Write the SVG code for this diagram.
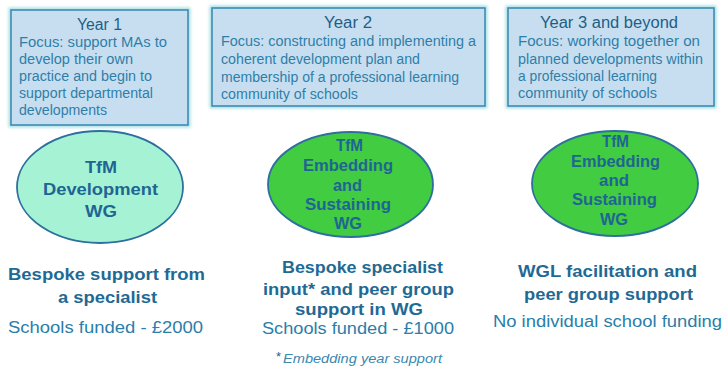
<svg xmlns="http://www.w3.org/2000/svg" width="725" height="371" viewBox="0 0 725 371">
  <defs>
    <filter id="glow" x="-10%" y="-10%" width="120%" height="120%">
      <feGaussianBlur stdDeviation="1.6"/>
    </filter>
    <style>
      text { font-family: "Liberation Sans", Arial, sans-serif; }
      .halo { fill: none; stroke: #a9dde3; stroke-width: 5; }
      .box { fill: #c7def1; stroke: #3d8db3; stroke-width: 1.6; }
      .year { font-size: 16px; fill: #1e5f86; text-anchor: middle; }
      .focus { font-size: 14px; fill: #2f7ea8; }
      .oval { stroke: #2d6f9e; stroke-width: 1.8; }
      .dev { fill: #a6f2d5; }
      .emb { fill: #42cc42; }
      .wg { font-size: 16px; font-weight: bold; fill: #1f6592; }
      .head { font-size: 17px; font-weight: bold; fill: #1f6a94; }
      .fund { font-size: 16px; fill: #2a7ea9; }
      .note { font-size: 12.5px; font-style: italic; fill: #3a88b0; }
      .star { font-size: 13px; fill: #1f5f86; }
    </style>
  </defs>

  <rect width="725" height="371" fill="#ffffff"/>

  <!-- Year headers -->
  <g id="year1">
    <rect class="halo" x="11" y="10" width="177" height="115" filter="url(#glow)"/>
    <rect class="box" x="11" y="10" width="177" height="115"/>
    <text class="year" x="99.5" y="30" textLength="45" lengthAdjust="spacingAndGlyphs">Year 1</text>
    <text class="focus" x="19" y="47" textLength="148" lengthAdjust="spacingAndGlyphs">Focus: support MAs to</text>
    <text class="focus" x="19" y="64" textLength="114" lengthAdjust="spacingAndGlyphs">develop their own</text>
    <text class="focus" x="19" y="81" textLength="133" lengthAdjust="spacingAndGlyphs">practice and begin to</text>
    <text class="focus" x="19" y="98" textLength="134" lengthAdjust="spacingAndGlyphs">support departmental</text>
    <text class="focus" x="19" y="115" textLength="88" lengthAdjust="spacingAndGlyphs">developments</text>
  </g>

  <g id="year2">
    <rect class="halo" x="212" y="8" width="273" height="98" filter="url(#glow)"/>
    <rect class="box" x="212" y="8" width="273" height="98"/>
    <text class="year" x="348" y="28" textLength="48" lengthAdjust="spacingAndGlyphs">Year 2</text>
    <text class="focus" x="221" y="46" textLength="255" lengthAdjust="spacingAndGlyphs">Focus: constructing and implementing a</text>
    <text class="focus" x="221" y="64" textLength="199" lengthAdjust="spacingAndGlyphs">coherent development plan and</text>
    <text class="focus" x="221" y="82" textLength="238" lengthAdjust="spacingAndGlyphs">membership of a professional learning</text>
    <text class="focus" x="221" y="99" textLength="137" lengthAdjust="spacingAndGlyphs">community of schools</text>
  </g>

  <g id="year3">
    <rect class="halo" x="508" y="8" width="206" height="98" filter="url(#glow)"/>
    <rect class="box" x="508" y="8" width="206" height="98"/>
    <text class="year" x="609" y="28" textLength="138" lengthAdjust="spacingAndGlyphs">Year 3 and beyond</text>
    <text class="focus" x="518" y="46" textLength="182" lengthAdjust="spacingAndGlyphs">Focus: working together on</text>
    <text class="focus" x="518" y="64" textLength="185" lengthAdjust="spacingAndGlyphs">planned developments within</text>
    <text class="focus" x="518" y="81" textLength="139" lengthAdjust="spacingAndGlyphs">a professional learning</text>
    <text class="focus" x="518" y="98" textLength="139" lengthAdjust="spacingAndGlyphs">community of schools</text>
  </g>

  <!-- Working groups -->
  <g id="wg-development">
    <ellipse class="oval dev" cx="100" cy="187" rx="83" ry="56"/>
    <text class="wg" x="85" y="173" textLength="32" lengthAdjust="spacingAndGlyphs">TfM</text>
    <text class="wg" x="43" y="195" textLength="115" lengthAdjust="spacingAndGlyphs">Development</text>
    <text class="wg" x="85" y="217" textLength="32" lengthAdjust="spacingAndGlyphs">WG</text>
  </g>

  <g id="wg-embedding-2">
    <ellipse class="oval emb" cx="350.5" cy="184.5" rx="82.5" ry="52.5"/>
    <text class="wg" x="336" y="151" textLength="27" lengthAdjust="spacingAndGlyphs">TfM</text>
    <text class="wg" x="303" y="171" textLength="90" lengthAdjust="spacingAndGlyphs">Embedding</text>
    <text class="wg" x="333" y="191" textLength="29" lengthAdjust="spacingAndGlyphs">and</text>
    <text class="wg" x="305" y="210" textLength="86" lengthAdjust="spacingAndGlyphs">Sustaining</text>
    <text class="wg" x="334" y="229" textLength="28" lengthAdjust="spacingAndGlyphs">WG</text>
  </g>

  <g id="wg-embedding-3">
    <ellipse class="oval emb" cx="615" cy="183.5" rx="83" ry="52.5"/>
    <text class="wg" x="602" y="147" textLength="27" lengthAdjust="spacingAndGlyphs">TfM</text>
    <text class="wg" x="571" y="167" textLength="89" lengthAdjust="spacingAndGlyphs">Embedding</text>
    <text class="wg" x="599" y="186" textLength="30" lengthAdjust="spacingAndGlyphs">and</text>
    <text class="wg" x="572" y="205" textLength="85" lengthAdjust="spacingAndGlyphs">Sustaining</text>
    <text class="wg" x="600" y="225" textLength="28" lengthAdjust="spacingAndGlyphs">WG</text>
  </g>

  <!-- Support and funding -->
  <g id="support1">
    <text class="head" x="8" y="280" textLength="197" lengthAdjust="spacingAndGlyphs">Bespoke support from</text>
    <text class="head" x="58" y="303" textLength="99" lengthAdjust="spacingAndGlyphs">a specialist</text>
    <text class="fund" x="8" y="333" textLength="195" lengthAdjust="spacingAndGlyphs">Schools funded - £2000</text>
  </g>

  <g id="support2">
    <text class="head" x="282" y="273" textLength="161" lengthAdjust="spacingAndGlyphs">Bespoke specialist</text>
    <text class="head" x="263" y="295" textLength="191" lengthAdjust="spacingAndGlyphs">input* and peer group</text>
    <text class="head" x="295" y="315" textLength="128" lengthAdjust="spacingAndGlyphs">support in WG</text>
    <text class="fund" x="262" y="334" textLength="192" lengthAdjust="spacingAndGlyphs">Schools funded - £1000</text>
    <text class="star" x="276" y="361">*</text>
    <text class="note" x="283" y="363" textLength="159" lengthAdjust="spacingAndGlyphs">Embedding year support</text>
  </g>

  <g id="support3">
    <text class="head" x="518" y="277" textLength="179" lengthAdjust="spacingAndGlyphs">WGL facilitation and</text>
    <text class="head" x="524" y="300" textLength="169" lengthAdjust="spacingAndGlyphs">peer group support</text>
    <text class="fund" x="493" y="327" textLength="229" lengthAdjust="spacingAndGlyphs">No individual school funding</text>
  </g>

  <g id="connectors"/>
</svg>
